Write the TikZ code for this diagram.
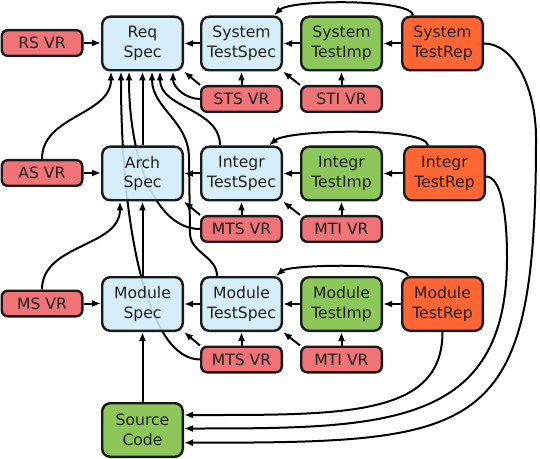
\documentclass[tikz,border=0pt]{standalone}
\usepackage{fontspec}
\setmainfont{DejaVu Sans}
\usetikzlibrary{arrows.meta}
\pgfdeclarelayer{bg}
\pgfsetlayers{bg,main}
\definecolor{specblue}{RGB}{208,236,250}
\definecolor{impgreen}{RGB}{141,198,89}
\definecolor{reporange}{RGB}{255,102,51}
\definecolor{vrred}{RGB}{240,115,120}
\definecolor{bordergray}{RGB}{25,25,25}
\begin{document}
\begin{tikzpicture}[x=1pt,y=1pt,
  box/.style={draw=bordergray, line width=2.4pt, rounded corners=8pt, minimum width=80.6pt, minimum height=53.6pt, align=center, inner sep=0pt, font=\fontsize{15.6}{19.5}\selectfont, text=black!88},
  spec/.style={box, fill=specblue, fill opacity=0.9, text opacity=1},
  imp/.style={box, fill=impgreen},
  rep/.style={box, fill=reporange},
  vr/.style={box, fill=vrred, minimum height=25.6pt, rounded corners=6pt},
  arr/.style={line width=2pt, draw=black, -{Latex[length=9pt,width=7pt]}},
]
\useasboundingbox (0,0) rectangle (540,458);
% row 1
\node[vr] (rsvr) at (42,415) {RS VR};
\node[spec] (req) at (142.5,414.5) {Req\\Spec};
\node[spec] (systs) at (241.5,414.5) {System\\TestSpec};
\node[imp] (systi) at (341.5,414.5) {System\\TestImp};
\node[rep] (systr) at (442.5,414.5) {System\\TestRep};
\node[vr] (stsvr) at (241.5,359) {STS VR};
\node[vr] (stivr) at (341.5,359) {STI VR};
% row 2
\node[vr] (asvr) at (42,285) {AS VR};
\node[spec] (arch) at (142.5,284.5) {Arch\\Spec};
\node[spec] (intts) at (241.5,284.5) {Integr\\TestSpec};
\node[imp] (intti) at (341.5,284.5) {Integr\\TestImp};
\node[rep] (inttr) at (444.5,284.5) {Integr\\TestRep};
\node[vr] (mtsvra) at (241.5,229) {MTS VR};
\node[vr] (mtivra) at (341.5,229) {MTI VR};
% row 3
\node[vr] (msvr) at (42,154.5) {MS VR};
\node[spec] (mod) at (142.5,154) {Module\\Spec};
\node[spec] (modts) at (241.5,154) {Module\\TestSpec};
\node[imp] (modti) at (341.5,154) {Module\\TestImp};
\node[rep] (modtr) at (442.5,154) {Module\\TestRep};
\node[vr] (mtsvrb) at (241.5,98.5) {MTS VR};
\node[vr] (mtivrb) at (341.5,98.5) {MTI VR};
\node[imp] (src) at (142.5,28) {Source\\Code};

\begin{pgfonlayer}{bg}
% horizontal
\draw[arr] (rsvr.east) -- (rsvr.east -| req.west);
\draw[arr] (systs.west) -- (req.east);
\draw[arr] (systi.west) -- (systs.east);
\draw[arr] (systr.west) -- (systi.east);
\draw[arr] (asvr.east) -- (asvr.east -| arch.west);
\draw[arr] (intts.west) -- (arch.east);
\draw[arr] (intti.west) -- (intts.east);
\draw[arr] (inttr.west) -- (inttr.west -| intti.east);
\draw[arr] (msvr.east) -- (msvr.east -| mod.west);
\draw[arr] (modts.west) -- (mod.east);
\draw[arr] (modti.west) -- (modts.east);
\draw[arr] (modtr.west) -- (modti.east);
% vertical
\draw[arr] (stsvr) -- (systs);
\draw[arr] (stivr) -- (systi);
\draw[arr] (mtsvra) -- (intts);
\draw[arr] (mtivra) -- (intti);
\draw[arr] (mtsvrb) -- (modts);
\draw[arr] (mtivrb) -- (modti);
\draw[arr] (arch) -- (req);
\draw[arr] (mod) -- (arch);
\draw[arr] (src) -- (mod);
% diagonals
\draw[arr] (stsvr.north west) -- (req.south east);
\draw[arr] (stivr.north west) -- (systs.south east);
\draw[arr] (mtsvra.north west) -- (arch.south east);
\draw[arr] (mtivra.north west) -- (intts.south east);
\draw[arr] (mtsvrb.north west) -- (mod.south east);
\draw[arr] (mtivrb.north west) -- (modts.south east);
% curves into specs
\draw[arr] (asvr.north) to[out=90,in=-90] ([xshift=-31.5pt]req.south);
\draw[arr] (msvr.north) to[out=90,in=-90] ([xshift=-22.5pt]arch.south);
\draw[arr] (mtsvra.west) to[out=180,in=-90,out distance=45pt,in distance=86pt] ([xshift=-13.5pt]req.south);
\draw[arr] (mtsvrb.west) to[out=180,in=-90,out distance=50pt,in distance=166pt] ([xshift=-21.5pt]req.south);
\draw[arr] (stsvr.west) to[out=180,in=-90] ([xshift=30.5pt]req.south);
\draw[arr] ([xshift=-21.5pt]intts.north) to[out=90,in=-90] ([xshift=17.5pt]req.south);
\draw[arr] ([xshift=-24.5pt]modts.north) to[out=90,in=-90] (190,225) -- (189,300) to[out=90,in=-90] ([xshift=9.5pt]req.south);
% top arcs
\draw[arr] ([xshift=-29.5pt]systr.north) to[out=92,in=45,out distance=17pt,in distance=23pt] ([xshift=-9pt]systs.north east);
\draw[arr] ([xshift=-16.5pt]inttr.north) to[out=95,in=40,out distance=19pt,in distance=25pt] ([xshift=-14pt]intts.north east);
\draw[arr] ([xshift=-34.5pt]modtr.north) to[out=95,in=40,out distance=14pt,in distance=18pt] ([xshift=-7pt]modts.north east);
% to source code
\draw[arr] (modtr.south) to[out=-90,in=0,out distance=85pt,in distance=160pt] ([yshift=15pt]src.east);
\draw[arr] ([yshift=-3pt]inttr.east) to[out=0,in=90,out distance=15pt,in distance=45pt] (507,200) to[out=-90,in=0,out distance=170pt,in distance=200pt] ([yshift=1.5pt]src.east);
\draw[arr] (systr.east) to[out=0,in=90,out distance=30pt,in distance=50pt] (536,320) to[out=-90,in=0,out distance=300pt,in distance=300pt] ([yshift=-12.7pt]src.east);
\end{pgfonlayer}
\end{tikzpicture}
\end{document}
